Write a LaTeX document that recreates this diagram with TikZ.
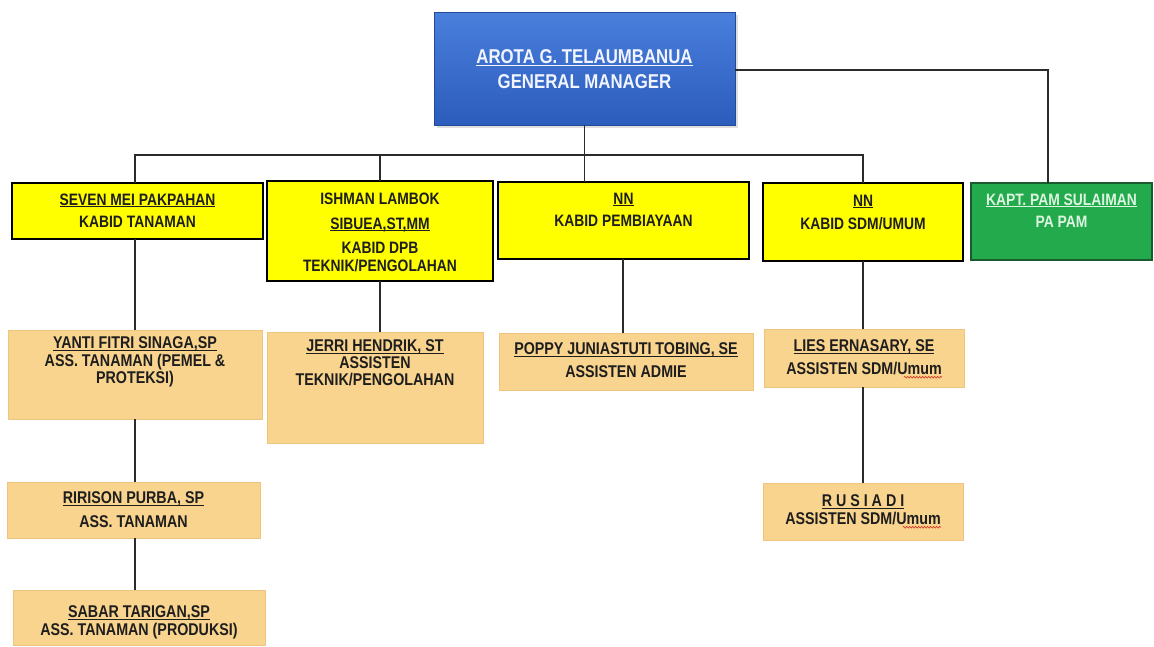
\documentclass[tikz,border=0pt]{standalone}
\usepackage{fontspec}
\setmainfont{Liberation Sans}[FakeStretch=0.84]
\usetikzlibrary{calc,decorations.pathmorphing,shadows}
\definecolor{yel}{HTML}{FFFF00}
\definecolor{orf}{HTML}{F9D48E}
\definecolor{ore}{HTML}{EEC47E}
\definecolor{grf}{HTML}{22AA4C}
\definecolor{gre}{HTML}{1B5A2E}
\definecolor{grt}{HTML}{DDF5E0}
\definecolor{bltop}{HTML}{4A7FDC}
\definecolor{blbot}{HTML}{2C5CBC}
\definecolor{blt}{HTML}{F2F5FF}
\definecolor{linec}{HTML}{2B2B2B}
\definecolor{txtc}{HTML}{1E1E1E}
\definecolor{wavered}{HTML}{D03020}
\newcommand\fs[2]{\fontsize{#1}{#2}\selectfont\bfseries}
\newsavebox\ulbox
\newcommand\ulx[1]{\sbox\ulbox{#1}\rlap{\rule[-1.7pt]{\wd\ulbox}{0.85pt}}\usebox\ulbox}
\begin{document}
\begin{tikzpicture}[x=1pt,y=-1pt,
  box/.style={rectangle, inner sep=0pt, outer sep=0pt},
  ybox/.style={box, fill=yel, draw=black, line width=1.2pt},
  obox/.style={box, fill=orf, draw=ore, line width=0.8pt},
  gbox/.style={box, fill=grf, draw=gre, line width=1.2pt},
  bbox/.style={box, top color=bltop, bottom color=blbot, draw=blbot!80!black, line width=0.5pt,
    drop shadow={opacity=0.25, shadow xshift=2.5pt, shadow yshift=-2.5pt}},
  txt/.style={anchor=north, inner sep=0pt, outer sep=0pt, align=center, text=txtc},
  conn/.style={draw=linec, line width=1.5pt},
  wave/.style={draw=wavered, line width=0.6pt, decorate, decoration={snake, amplitude=0.9pt, segment length=3pt}}]
\useasboundingbox (0,0) rectangle (1154,646);
\fill[white] (0,0) rectangle (1154,646);

% boxes
\node[bbox, minimum width=301pt, minimum height=113pt] (gm) at (584.5,68.5) {};
\node[ybox, minimum width=251pt, minimum height=56pt] (seven) at (137.5,211) {};
\node[ybox, minimum width=226pt, minimum height=100pt] (ishman) at (380,231) {};
\node[ybox, minimum width=251pt, minimum height=77pt] (nnp) at (623.5,220.5) {};
\node[ybox, minimum width=200pt, minimum height=78pt] (nns) at (863,222) {};
\node[gbox, minimum width=181pt, minimum height=77pt] (pam) at (1061.5,221.5) {};
\node[obox, minimum width=254pt, minimum height=89pt] (yanti) at (135,374.5) {};
\node[obox, minimum width=216pt, minimum height=111pt] (jerri) at (375,387.5) {};
\node[obox, minimum width=254pt, minimum height=57pt] (poppy) at (626,361.5) {};
\node[obox, minimum width=200pt, minimum height=58pt] (lies) at (864,358) {};
\node[obox, minimum width=253pt, minimum height=56pt] (ririson) at (133.5,510) {};
\node[obox, minimum width=252pt, minimum height=55pt] (sabar) at (139,617.5) {};
\node[obox, minimum width=200pt, minimum height=57pt] (rusiadi) at (863,511.5) {};

% texts
\node[txt, text=blt, font=\fs{20}{25}] (gm-t) at ([yshift=-38pt]gm.north)
  {\ulx{AROTA G. TELAUMBANUA}\\GENERAL MANAGER};
\node[txt, font=\fs{16.5}{22}] (seven-t) at ([yshift=-11pt]seven.north)
  {\ulx{SEVEN MEI PAKPAHAN}\\KABID TANAMAN};
\node[txt, font=\fs{16.5}{24.5}] (ishman-t) at ([yshift=-12pt]ishman.north)
  {ISHMAN LAMBOK\\\ulx{SIBUEA,ST,MM}\\KABID DPB\\[-7pt]TEKNIK/PENGOLAHAN};
\node[txt, font=\fs{16.5}{22}] (nnp-t) at ([yshift=-11pt]nnp.north)
  {\ulx{NN}\\KABID PEMBIAYAAN};
\node[txt, font=\fs{16.5}{23}] (nns-t) at ([yshift=-12pt]nns.north)
  {\ulx{NN}\\KABID SDM/UMUM};
\node[txt, text=grt, font=\fs{16.5}{22}] (pam-t) at ([yshift=-11pt]pam.north)
  {\ulx{KAPT. PAM SULAIMAN}\\PA PAM};
\node[txt, font=\fs{17}{17.5}] (yanti-t) at ([yshift=-7pt]yanti.north)
  {\ulx{YANTI FITRI SINAGA,SP}\\ASS. TANAMAN (PEMEL \&\\PROTEKSI)};
\node[txt, font=\fs{17}{17}] (jerri-t) at ([yshift=-8pt]jerri.north)
  {\ulx{JERRI HENDRIK, ST}\\ASSISTEN\\TEKNIK/PENGOLAHAN};
\node[txt, font=\fs{17}{23}] (poppy-t) at ([yshift=-10pt]poppy.north)
  {\ulx{POPPY JUNIASTUTI TOBING, SE}\\ASSISTEN ADMIE};
\node[txt, font=\fs{17}{23}] (lies-t) at ([yshift=-11pt]lies.north)
  {\ulx{LIES ERNASARY, SE}\\ASSISTEN SDM/Umum};
\node[txt, font=\fs{17}{24}] (ririson-t) at ([yshift=-10pt]ririson.north)
  {\ulx{RIRISON PURBA, SP}\\ASS. TANAMAN};
\node[txt, font=\fs{17}{18}] (sabar-t) at ([yshift=-16pt]sabar.north)
  {\ulx{SABAR TARIGAN,SP}\\ASS. TANAMAN (PRODUKSI)};
\node[txt, font=\fs{17}{18}] (rusiadi-t) at ([yshift=-12pt]rusiadi.north)
  {\ulx{R U S I A D I}\\ASSISTEN SDM/Umum};

% spell-check squiggles under "Umum"
\draw[wave] ([xshift=-38pt,yshift=-2pt]lies-t.south east) -- ([yshift=-2pt]lies-t.south east);
\draw[wave] ([xshift=-38pt,yshift=-2pt]rusiadi-t.south east) -- ([yshift=-2pt]rusiadi-t.south east);

% connectors
\coordinate (busy) at (0,155);
\draw[conn] (gm.south) -- (gm.south |- nnp.north);
\draw[conn] (yanti.north |- seven.north) -- (yanti.north |- busy) -- (nns.north |- busy) -- (nns.north);
\draw[conn] (ishman.north) -- (ishman.north |- busy);
\draw[conn] ([yshift=-1.5pt]gm.east) -| ([xshift=-13.5pt]pam.north);
\draw[conn] (yanti.north |- seven.south) -- (yanti.north);
\draw[conn] (yanti.south) -- (yanti.south |- ririson.north);
\draw[conn] (yanti.south |- ririson.south) -- (yanti.south |- sabar.north);
\draw[conn] (ishman.south) -- (ishman.south |- jerri.north);
\draw[conn] ([xshift=-0.5pt]nnp.south) -- ([xshift=-0.5pt]nnp.south |- poppy.north);
\draw[conn] (nns.south) -- (nns.south |- lies.north);
\draw[conn] (lies.south -| nns.south) -- (nns.south |- rusiadi.north);
\end{tikzpicture}
\end{document}
